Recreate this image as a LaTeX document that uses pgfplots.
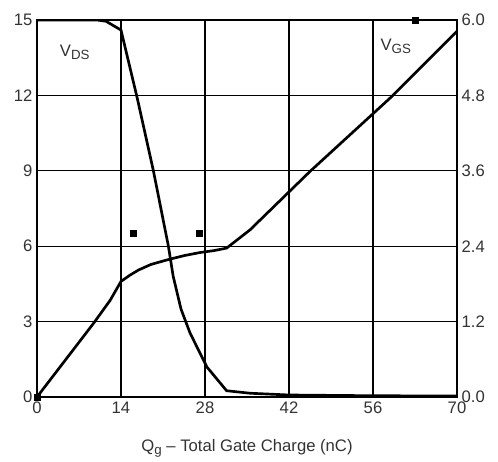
\documentclass[border=0pt]{standalone}
\usepackage{fontspec}
\setmainfont{Liberation Sans}
\usepackage{pgfplots}
\pgfplotsset{compat=1.18}
\newcommand{\sub}[1]{\raisebox{-0.35ex}{\fontsize{10}{12}\selectfont #1}}
\begin{document}
\begin{tikzpicture}
\useasboundingbox (-27.75pt,-48pt) rectangle (345.75pt,297.75pt);
\pgfplotsset{
  every axis/.append style={
    at={(0,0)}, anchor=south west,
    scale only axis, width=315pt, height=282.75pt,
    xmin=0, xmax=70,
    axis line style={line width=1pt},
    tick style={draw=none},
    ticklabel style={font=\fontsize{12.5}{14}\selectfont, text=black!80},
    /pgf/number format/assume math mode=true,
  }
}
% left axis: V_DS
\begin{axis}[
    ymin=0, ymax=15,
    xtick={0,14,...,70},
    ytick={0,3,...,15},
    yticklabel pos=left,
    grid=major,
    grid style={black, line width=1pt},
    xlabel={Q\sub{g} -- Total Gate Charge (nC)},
    xlabel style={font=\fontsize{12.5}{14}\selectfont, text=black!80,
        at={(axis description cs:0.5,0)}, anchor=north, yshift=-28.5pt},
]
\addplot[black, line width=2pt] coordinates {
(0,15) (10,15) (11.5,14.95) (14,14.6) (16.7,11.9) (19.4,9.0) (21.9,6.0)
(22.7,4.8) (24,3.5) (25.5,2.55) (28.3,1.2) (31.6,0.25) (35.5,0.15)
(42,0.08) (56,0.05) (70,0.04)
};
\addplot[only marks, mark=square*, mark size=2.2pt, black] coordinates {
(0,0) (16,6.5) (27,6.5) (63,15)
};
\node[font=\fontsize{12.5}{14}\selectfont, text=black!80] at (axis cs:6.3,13.7) {V\sub{DS}};
\node[font=\fontsize{12.5}{14}\selectfont, text=black!80] at (axis cs:59.8,13.95) {V\sub{GS}};
\end{axis}
% right axis: V_GS
\begin{axis}[
    ymin=0, ymax=6,
    axis x line=none,
    ytick={0,1.2,...,6.0},
    yticklabel pos=right,
    yticklabel style={/pgf/number format/.cd, fixed, fixed zerofill, precision=1},
]
\addplot[black, line width=2pt] coordinates {
(0,0) (9.4,1.17) (12.2,1.54) (14,1.84) (15.5,1.94) (16.9,2.02) (19,2.11)
(21.6,2.18) (24.5,2.25) (27.2,2.30) (29.5,2.33) (31.6,2.37) (35.5,2.66)
(45.5,3.59) (59.1,4.78) (70,5.82)
};
\end{axis}
\end{tikzpicture}
\end{document}
